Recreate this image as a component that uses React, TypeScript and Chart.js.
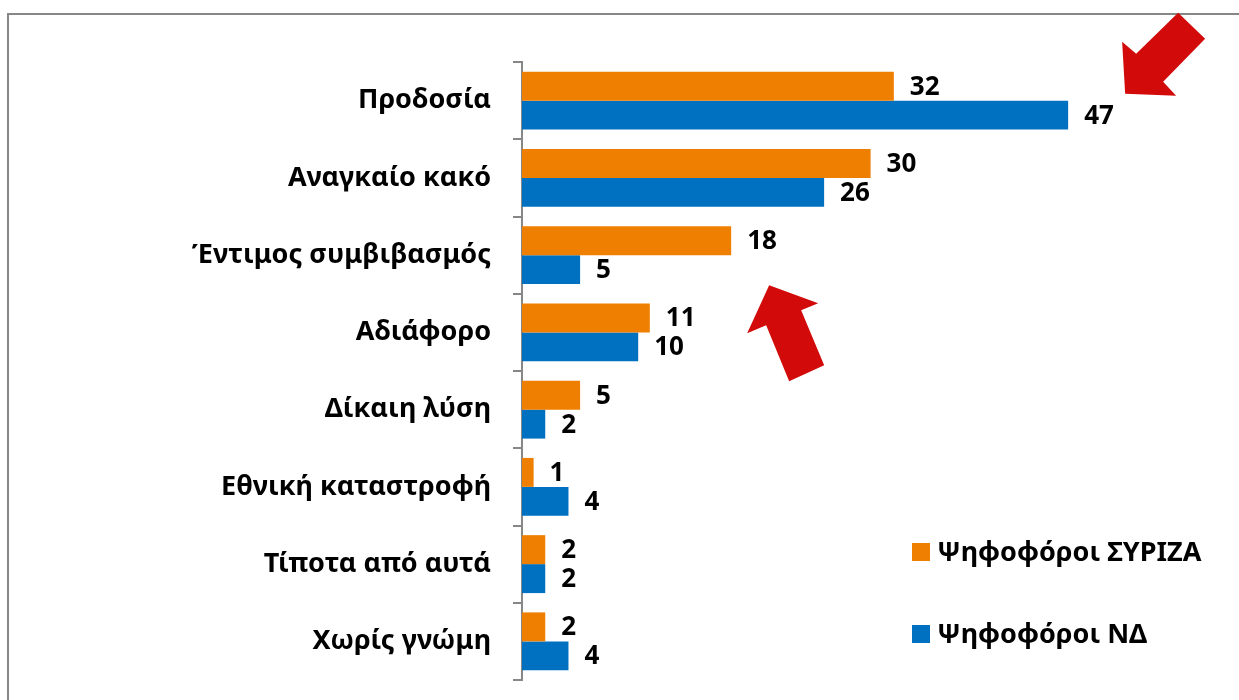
import React, { useEffect, useRef } from "react";
import { Chart, registerables } from "chart.js";

Chart.register(...registerables);

const categories = [
  "Προδοσία",
  "Αναγκαίο κακό",
  "Έντιμος συμβιβασμός",
  "Αδιάφορο",
  "Δίκαιη λύση",
  "Εθνική καταστροφή",
  "Τίποτα από αυτά",
  "Χωρίς γνώμη",
];
const syrizaValues = [32, 30, 18, 11, 5, 1, 2, 2];
const ndValues = [47, 26, 5, 10, 2, 4, 2, 4];
const seriesNames = ["Ψηφοφόροι ΣΥΡΙΖΑ", "Ψηφοφόροι ΝΔ"];
const seriesColors = ["#EF7F00", "#0070C0"];
const xMax = 50;

const FONT = "'Noto Sans', sans-serif";
const AXIS_GRAY = "#878787";
const ARROW_RED = "#D20A0A";

// arrow shapes as offsets from the tip
const arrowDownLeft = [
  [0, 0], [-3, -52], [11, -40], [53, -81], [80, -55], [38, -12], [51, 2],
];
const arrowUpLeft = [
  [0, 0], [49, 18], [32, 25], [55, 80], [20, 96], [-3, 40], [-22, 48],
];

const decorPlugin = {
  id: "decor",
  beforeDraw(chart: any) {
    const ctx = chart.ctx;
    ctx.save();
    ctx.fillStyle = "#ffffff";
    ctx.fillRect(0, 0, chart.width, chart.height);
    ctx.strokeStyle = AXIS_GRAY;
    ctx.lineWidth = 2;
    ctx.strokeRect(8, 14, chart.width + 50, chart.height + 50);
    ctx.restore();
  },
  afterDatasetsDraw(chart: any) {
    const ctx = chart.ctx;
    ctx.save();
    ctx.font = `bold 26px ${FONT}`;
    ctx.fillStyle = "#000";
    ctx.textAlign = "left";
    ctx.textBaseline = "middle";
    chart.data.datasets.forEach((ds: any, di: number) => {
      const meta = chart.getDatasetMeta(di);
      meta.data.forEach((bar: any, i: number) => {
        ctx.fillText(String(ds.data[i]), bar.x + 16, bar.y + 1);
      });
    });

    // legend
    ctx.font = `bold 27px ${FONT}`;
    const lx = 912;
    const ly = [552, 634];
    chart.data.datasets.forEach((ds: any, di: number) => {
      ctx.fillStyle = ds.backgroundColor;
      ctx.fillRect(lx, ly[di] - 9, 18, 18);
      ctx.fillStyle = "#000";
      ctx.fillText(ds.label, lx + 25, ly[di] + 1);
    });

    // arrows
    const xs = chart.scales.x;
    const ys = chart.scales.y;
    const drawArrow = (tx: number, ty: number, pts: number[][]) => {
      ctx.beginPath();
      pts.forEach(([dx, dy], k) => {
        if (k === 0) ctx.moveTo(tx + dx, ty + dy);
        else ctx.lineTo(tx + dx, ty + dy);
      });
      ctx.closePath();
      ctx.fillStyle = ARROW_RED;
      ctx.fill();
    };
    drawArrow(xs.getPixelForValue(ndValues[0]) + 57, ys.getPixelForValue(0) - 7, arrowDownLeft);
    drawArrow(xs.getPixelForValue(syrizaValues[2]) + 38, ys.getPixelForValue(2) + 30, arrowUpLeft);
    ctx.restore();
  },
};

export default function App() {
  const ref = useRef<HTMLCanvasElement | null>(null);
  useEffect(() => {
    if (!ref.current) return;
    const chart = new Chart(ref.current, {
      type: "bar",
      data: {
        labels: categories,
        datasets: [
          {
            label: seriesNames[0],
            data: syrizaValues,
            backgroundColor: seriesColors[0],
            barPercentage: 1,
            categoryPercentage: 0.75,
            borderWidth: 0,
          },
          {
            label: seriesNames[1],
            data: ndValues,
            backgroundColor: seriesColors[1],
            barPercentage: 1,
            categoryPercentage: 0.75,
            borderWidth: 0,
          },
        ],
      },
      options: {
        indexAxis: "y",
        animation: false,
        responsive: false,
        layout: { padding: { top: 62, bottom: 20, left: 0, right: 136 } },
        plugins: { legend: { display: false }, tooltip: { enabled: false } },
        scales: {
          x: { min: 0, max: xMax, display: false },
          y: {
            grid: {
              offset: true,
              drawOnChartArea: false,
              tickLength: 9,
              color: AXIS_GRAY,
              lineWidth: 2,
            },
            border: { color: AXIS_GRAY, width: 2 },
            ticks: {
              color: "#000",
              padding: 22,
              font: { family: FONT, size: 27, weight: "bold" },
            },
            afterFit: (s: any) => {
              s.width = 522;
              s.paddingTop = 0;
              s.paddingBottom = 0;
            },
          },
        },
      },
      plugins: [decorPlugin],
    });
    return () => chart.destroy();
  }, []);
  return (
    <div style={{ position: "fixed", left: 0, top: 0, width: 1239, height: 700 }}>
      <canvas ref={ref} width={1239} height={700} style={{ width: 1239, height: 700 }} />
    </div>
  );
}
